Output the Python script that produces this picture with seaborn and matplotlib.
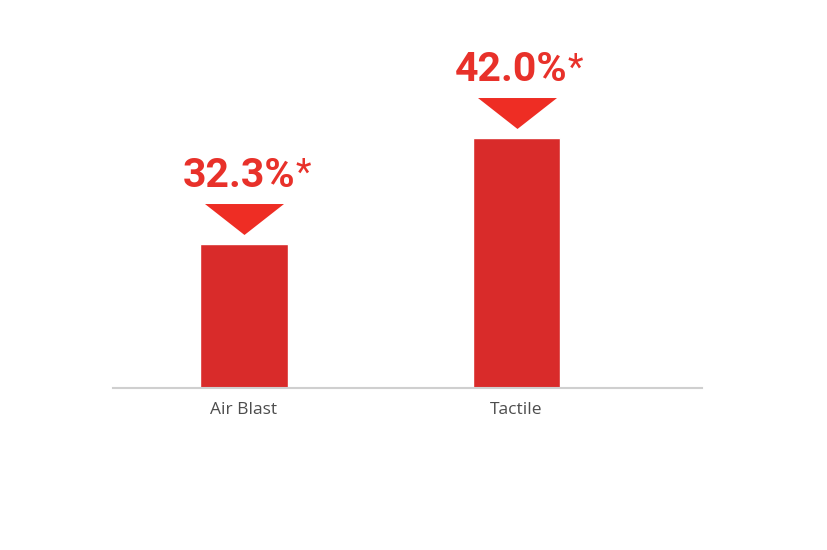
import matplotlib
matplotlib.use("Agg")
import matplotlib.pyplot as plt
import matplotlib.transforms as mtransforms
import pandas as pd
import seaborn as sns

# data
methods = ["Air Blast", "Tactile"]
rates = [32.3, 42.0]
labels = ["32.3%", "42.0%"]

df = pd.DataFrame({"method": methods, "rate": rates})

sns.set_theme(style="white")
plt.rcParams["font.family"] = ["Open Sans", "DejaVu Sans"]

bar_color = "#d92b2a"
arrow_color = "#ee2d24"
text_color = "#e8312a"

fig = plt.figure(figsize=(8.28, 5.5), dpi=100)
ax = fig.add_axes([113 / 828, 162 / 550, 589 / 828, 337 / 550])

sns.barplot(data=df, x="method", y="rate", color=bar_color, width=0.32,
            saturation=1, ax=ax)

ax.set_xlim(-0.48, 1.68)
ax.set_ylim(19.1, 50)
ax.set_xlabel("")
ax.set_ylabel("")
ax.set_yticks([])
sns.despine(ax=ax, left=True)
ax.spines["bottom"].set_color("#cfcfcf")
ax.spines["bottom"].set_linewidth(1.5)
ax.tick_params(axis="x", length=0, pad=10, labelsize=12.5, labelcolor="#4d4d4d")

# downward triangle markers above each bar
tri = [(-0.5, 0.196), (0.5, 0.196), (0, -0.196)]
tri_trans = mtransforms.offset_copy(ax.transData, fig=fig, x=0, y=25, units="dots")
ax.scatter(range(len(rates)), rates, marker=tri, s=(79 * 72 / 100) ** 2,
           color=arrow_color, linewidths=0, transform=tri_trans, clip_on=False,
           zorder=3)

# value labels with asterisk
for i, (v, lab) in enumerate(zip(rates, labels)):
    t = ax.annotate(lab, xy=(i, v), xytext=(-5, 57), textcoords="offset pixels",
                    ha="center", va="baseline", fontsize=29.5,
                    fontfamily="Roboto", fontweight="bold", color=text_color,
                    annotation_clip=False)
    ax.annotate("*", xy=(1, 1), xycoords=t, xytext=(0, 1),
                textcoords="offset pixels", ha="left", va="top",
                fontsize=26, fontfamily="Roboto", color=text_color)

fig.savefig("out.png", dpi=100)
